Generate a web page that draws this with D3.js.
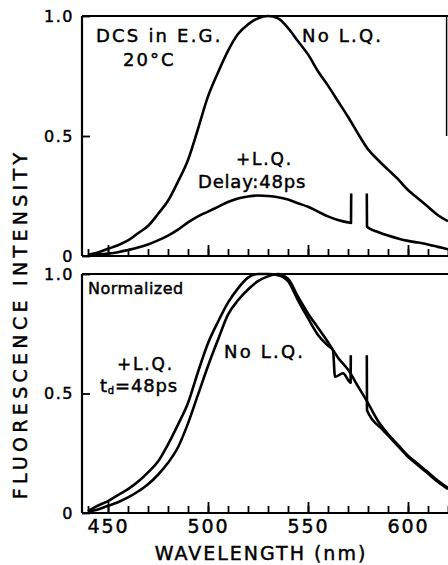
<!DOCTYPE html>
<html>
<head>
<meta charset="UTF-8">
<script src="https://d3js.org/d3.v7.min.js"></script>
<style>
  body { margin: 0; background: #fff; }
  text { font-family: "DejaVu Sans", sans-serif; fill: #000; stroke: #000; stroke-width: 0.45px; }
</style>
</head>
<body>
<div id="chart"></div>
<script>
// wavelength (nm), intensity
var topNoLQ = [[440,0.005],[445,0.015],[450,0.03],[455,0.045],[460,0.065],[465,0.095],[470,0.125],
  [475,0.175],[480,0.23],[485,0.31],[490,0.40],[495,0.53],[500,0.665],[505,0.765],[510,0.855],
  [515,0.925],[520,0.965],[525,0.99],[530,1.0],[535,0.99],[540,0.95],[545,0.895],[550,0.84],
  [555,0.77],[560,0.71],[565,0.645],[570,0.58],[575,0.51],[580,0.445],[585,0.40],[590,0.36],
  [595,0.32],[600,0.275],[605,0.24],[610,0.205],[615,0.17],[620,0.145]]
var topLQ = [[440,0.003],[445,0.006],[450,0.01],[455,0.016],[460,0.025],[465,0.035],[470,0.048],
  [475,0.065],[480,0.085],[485,0.11],[490,0.14],[495,0.165],[500,0.185],[505,0.205],[510,0.225],
  [515,0.24],[520,0.248],[525,0.252],[530,0.25],[535,0.245],[540,0.235],[545,0.22],[550,0.205],
  [555,0.185],[560,0.165],[565,0.15],[570,0.14],[571.5,0.138],[571.6,0.26],[575,null],
  [579.4,0.26],[579.5,0.122],[585,0.10],[590,0.085],[595,0.073],[600,0.063],[605,0.056],
  [610,0.048],[615,0.038],[620,0.028]]
var normNoLQ = [[440,0.005],[445,0.015],[450,0.03],[455,0.045],[460,0.065],[465,0.09],[470,0.12],
  [475,0.16],[480,0.21],[485,0.275],[490,0.375],[495,0.495],[500,0.615],[505,0.725],[510,0.83],
  [515,0.89],[520,0.935],[525,0.97],[530,0.99],[535,1.0],[540,0.98],[545,0.905],[550,0.835],
  [555,0.775],[560,0.715],[565,0.65],[570,0.60],[575,0.53],[580,0.46],[585,0.385],[590,0.33],
  [595,0.285],[600,0.24],[605,0.205],[610,0.17],[615,0.135],[620,0.105]]
var normLQ = [[440,0.008],[443.5,0.025],[450,0.05],[455,0.075],[460,0.10],[466,0.138],[470,0.17],
  [475,0.215],[478.5,0.264],[485,0.37],[490,0.46],[495,0.59],[500,0.71],[505,0.80],[510,0.88],
  [515,0.94],[520,0.985],[525,1.0],[530,1.0],[535,0.995],[540,0.97],[545,0.89],[550,0.815],
  [555,0.745],[560,0.70],[562.5,0.68],[563.5,0.57],[567.5,0.585],[571.3,0.545],[571.4,0.66],
  [575,null],[579.4,0.66],[579.5,0.43],[587.5,0.347],[590,0.325],[595,0.28],[600,0.235],
  [605,0.2],[610,0.165],[615,0.13],[620,0.10]]

var xMajor = [450,500,550,600]
var xMinor = d3.range(440,621,10)
var yTicks = [0,0.5,1]

var width = 448, height = 565
var svg = d3.select('#chart').append('svg').attr('width', width).attr('height', height)

var x = d3.scaleLinear().domain([437,620]).range([82,448])
var yTop = d3.scaleLinear().domain([0,1]).range([256,16])
var yBot = d3.scaleLinear().domain([0,1]).range([513,274])

function panel(y, labels) {
  var g = svg.append('g')
  // frame top
  g.append('line').attr('x1', x(437)).attr('x2', x(620)).attr('y1', y(1)).attr('y2', y(1))
    .attr('stroke', '#000').attr('stroke-width', 2)
  // minor ticks
  g.append('g').attr('transform', 'translate(0,' + y(0) + ')')
    .call(d3.axisBottom(x).tickValues(xMinor).tickSize(-7).tickFormat(''))
  var ax = g.append('g').attr('transform', 'translate(0,' + y(0) + ')')
    .call(d3.axisBottom(x).tickValues(xMajor).tickSize(-11).tickPadding(7)
      .tickFormat(labels ? d3.format('d') : ''))
  ax.selectAll('text').attr('font-size', 19).attr('letter-spacing', 2)
  var ay = g.append('g').attr('transform', 'translate(' + x(437) + ',0)')
    .call(d3.axisLeft(y).tickValues(yTicks).tickSize(-8).tickPadding(8)
      .tickFormat(function(d){ return d === 0 ? '0' : d3.format('.1f')(d) }))
  ay.selectAll('text').attr('font-size', 16).attr('letter-spacing', 1.5)
  g.selectAll('.tick line').attr('stroke-width', 1.8)
  g.selectAll('.domain').remove()
  g.append('line').attr('x1', x(437)).attr('x2', x(620)).attr('y1', y(0)).attr('y2', y(0))
    .attr('stroke', '#000').attr('stroke-width', 2.2)
  g.append('line').attr('x1', x(437)).attr('x2', x(437)).attr('y1', y(0)).attr('y2', y(1))
    .attr('stroke', '#000').attr('stroke-width', 2.2)
  return g
}

var gTop = panel(yTop, false)
var gBot = panel(yBot, true)
// right edge of the top frame
gTop.append('line').attr('x1', x(619.3)).attr('x2', x(619.3)).attr('y1', yTop(1)).attr('y2', yTop(0.5))
  .attr('stroke', '#000').attr('stroke-width', 1.5)

function curve(g, y, data) {
  var line = d3.line()
    .defined(function(d){ return d[1] !== null })
    .x(function(d){ return x(d[0]) })
    .y(function(d){ return y(d[1]) })
    .curve(d3.curveMonotoneX)
  g.append('path').attr('d', line(data)).attr('fill', 'none')
    .attr('stroke', '#000').attr('stroke-width', 2.6).attr('stroke-linejoin', 'round')
}
curve(gTop, yTop, topNoLQ)
curve(gTop, yTop, topLQ)
curve(gBot, yBot, normNoLQ)
curve(gBot, yBot, normLQ)

function label(txt, wl, v, y, size, ls) {
  return svg.append('text').attr('x', x(wl)).attr('y', y(v))
    .attr('font-size', size).attr('letter-spacing', ls).text(txt)
}
label('DCS in E.G.', 444, 0.89, yTop, 18, 2.2)
label('20°C', 457.5, 0.79, yTop, 18, 2)
label('No L.Q.', 547, 0.89, yTop, 18, 2.2)
label('+L.Q.', 514, 0.38, yTop, 17, 1.8)
label('Delay:48ps', 495, 0.283, yTop, 18, 0.8)
label('Normalized', 440, 0.916, yBot, 16, 0.5)
label('+L.Q.', 454.5, 0.598, yBot, 17, 1.8)
var td = label('t', 446, 0.506, yBot, 18, 0.8)
td.append('tspan').attr('font-size', 10).attr('dy', 2).text('d')
td.append('tspan').attr('dy', -2).text('=48ps')
label('No L.Q.', 508, 0.649, yBot, 18, 2.2)

svg.append('text').attr('x', 261).attr('y', 560).attr('text-anchor', 'middle')
  .attr('font-size', 19).attr('letter-spacing', 2).text('WAVELENGTH (nm)')
svg.append('text').attr('transform', 'translate(27,324) rotate(-90)').attr('text-anchor', 'middle')
  .attr('font-size', 19).attr('letter-spacing', 4.3).text('FLUORESCENCE  INTENSITY')
</script>
</body>
</html>
